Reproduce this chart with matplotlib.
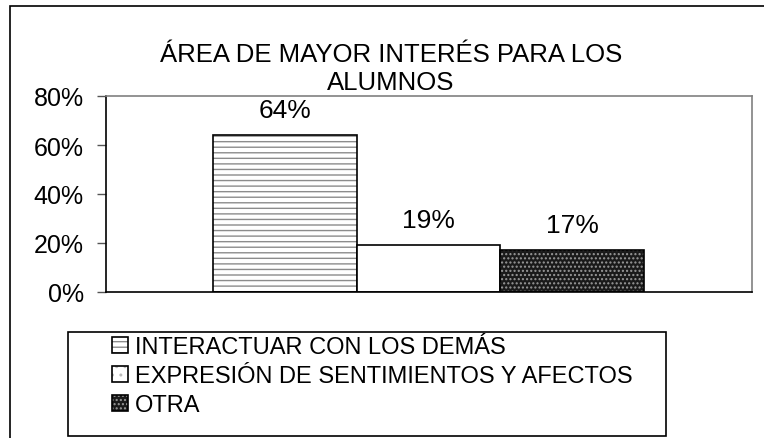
import matplotlib.pyplot as plt
from matplotlib.patches import Patch, Rectangle
import matplotlib.ticker as mtick

plt.rcParams['font.family'] = ['Liberation Sans', 'DejaVu Sans']
plt.rcParams['hatch.linewidth'] = 1.0

categories = ['INTERACTUAR CON LOS DEMÁS', 'EXPRESIÓN DE SENTIMIENTOS Y AFECTOS', 'OTRA']
values = [64, 19, 17]
labels = ['64%', '19%', '17%']

faces = ['white', 'white', '#1a1a1a']
hatches = ['---', '', '....']
hatch_cols = ['#8c8c8c', 'white', '#9a9a9a']

W, H = 764, 439
fig = plt.figure(figsize=(W / 100, H / 100), dpi=100)
# outer chart border (right and bottom edges fall outside the image)
fig.patches.append(Rectangle((10 / W, -0.1), 1.2, 1.1 - 7 / H, transform=fig.transFigure,
                             fill=False, edgecolor='black', linewidth=1.2))

ax = fig.add_axes([106 / W, 1 - 293 / H, 646 / W, 196 / H])
x = [0, 1, 2]
w = 1.0
for i, v in enumerate(values):
    ax.bar(x[i], v, width=w, color=faces[i], hatch=hatches[i], edgecolor=hatch_cols[i], linewidth=0)
    ax.bar(x[i], v, width=w, fill=False, edgecolor='black', linewidth=1.2)
    ax.text(x[i], v + 7.5, labels[i], ha='center', va='baseline', fontsize=19)

ax.set_xlim(-0.5 - 107 / 143.7, 2.5 + 108 / 143.7)
ax.set_ylim(0, 80)
ax.set_yticks([0, 20, 40, 60, 80])
ax.yaxis.set_major_formatter(mtick.FuncFormatter(lambda v, p: '%d%%' % v))
ax.tick_params(axis='y', labelsize=18, length=6.5, width=1, color='#555555', pad=9.5)
ax.set_xticks([])
for s in ax.spines.values():
    s.set_color('#808080')
    s.set_linewidth(1.2)
ax.spines['left'].set_color('black')
ax.spines['bottom'].set_color('black')

fig.text(391 / W, 1 - 90 / H, 'ÁREA DE MAYOR INTERÉS PARA LOS\nALUMNOS', ha='center', va='baseline',
         fontsize=18.5, linespacing=1.2)

handles = []
for i in range(3):
    fill = Patch(facecolor=faces[i], hatch=hatches[i] if i != 1 else '..', edgecolor=hatch_cols[i] if i != 1 else '#bbbbbb',
                 linewidth=0)
    edge = Patch(fill=False, edgecolor='black', linewidth=1.2)
    handles.append((fill, edge))

fig.patches.append(Rectangle((68 / W, 1 - 437 / H), 598 / W, 104 / H, transform=fig.transFigure,
                             fill=False, edgecolor='black', linewidth=1.2))
leg = fig.legend(handles, categories, loc='upper left', bbox_to_anchor=(112 / W, 1 - 337 / H),
                 fontsize=17, frameon=False, handlelength=0.68, handleheight=0.68,
                 handletextpad=0.3, borderaxespad=0, borderpad=0, labelspacing=0.3)

fig.savefig('out.png', dpi=100)
